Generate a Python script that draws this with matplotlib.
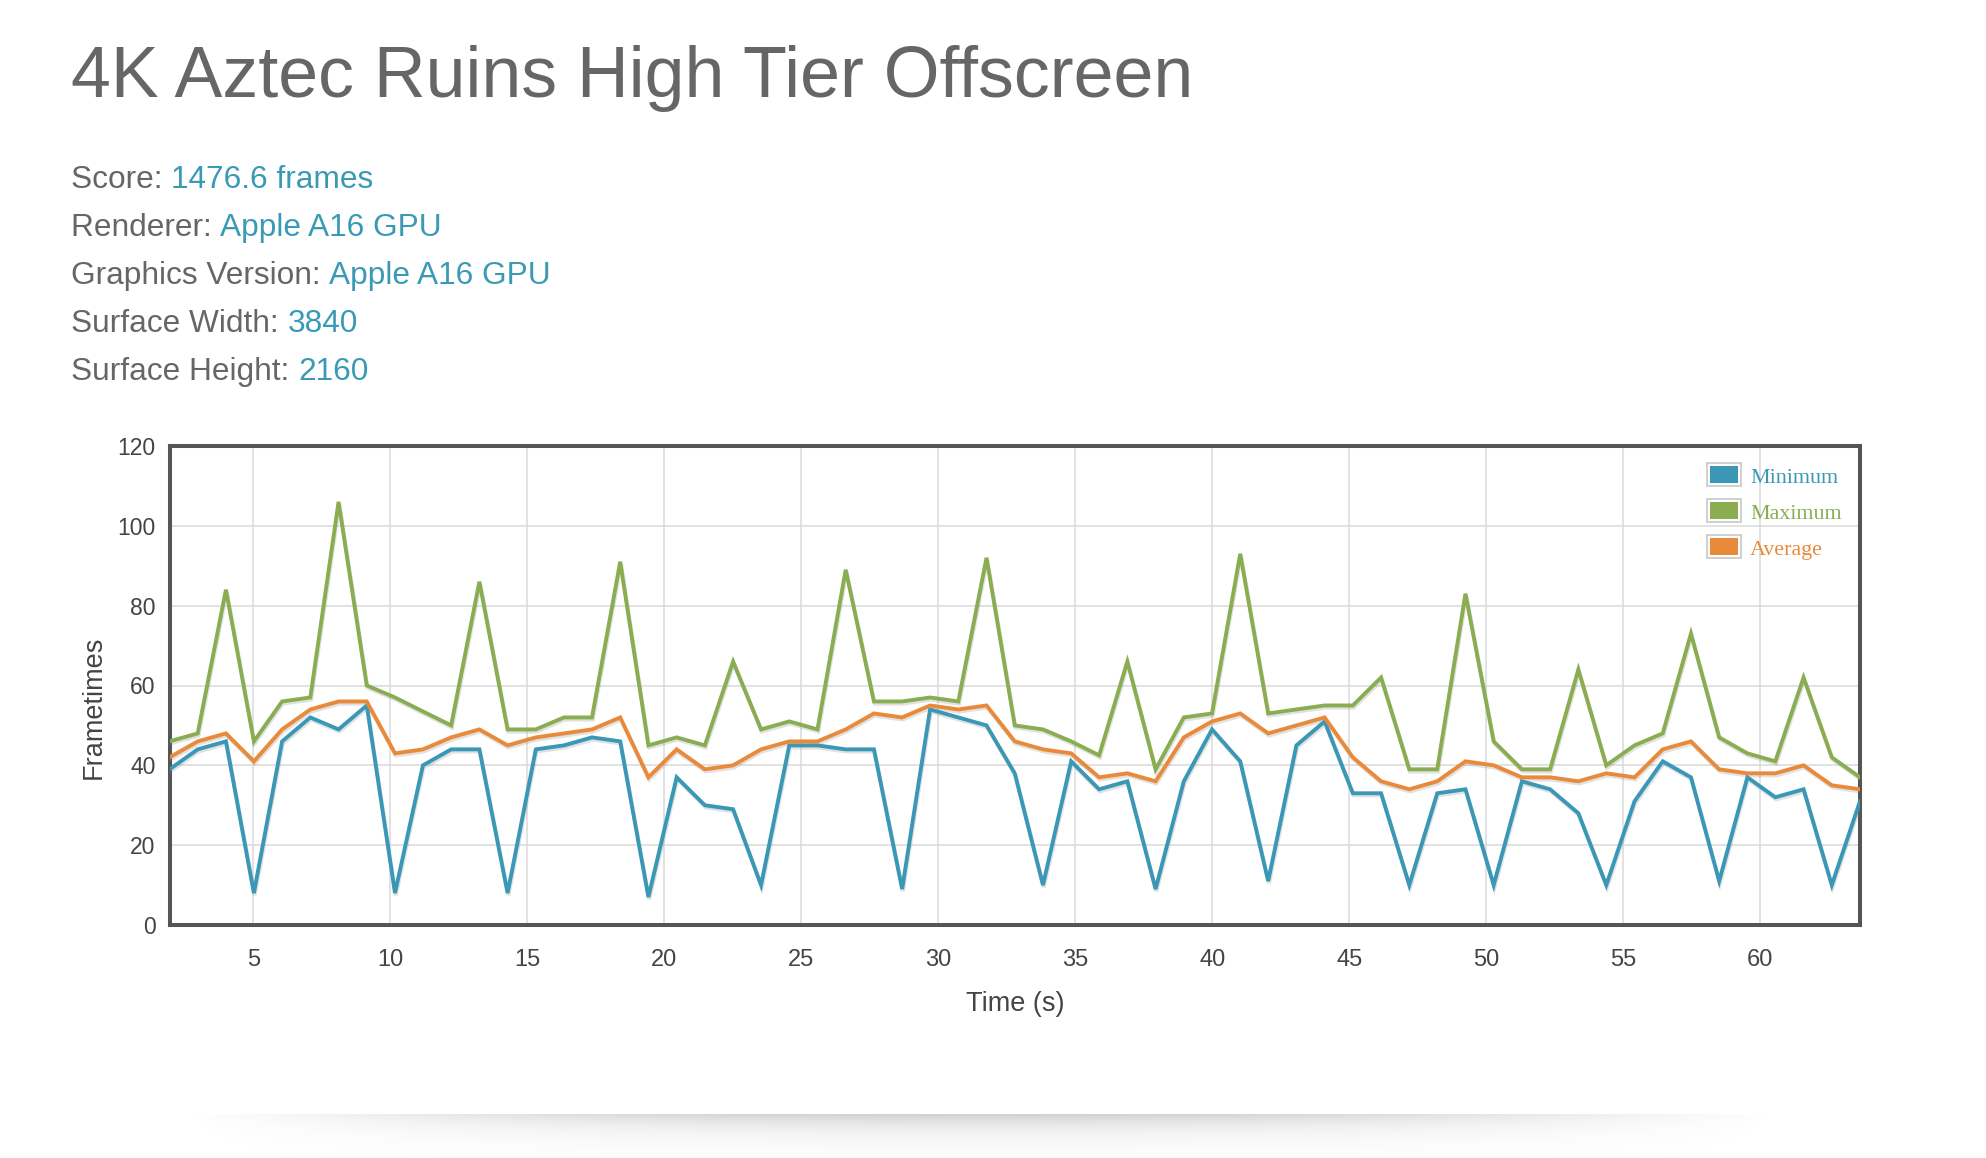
import numpy as np
import matplotlib
matplotlib.use("Agg")
import matplotlib.pyplot as plt
import matplotlib.patheffects as pe
from matplotlib.patches import Rectangle

# Frame time samples (s) and values
times = [1.94, 2.97, 4.00, 5.02, 6.05, 7.08, 8.11, 9.14, 10.17, 11.19,
         12.22, 13.25, 14.28, 15.31, 16.34, 17.36, 18.39, 19.42, 20.45, 21.48,
         22.51, 23.53, 24.56, 25.59, 26.62, 27.65, 28.68, 29.70, 30.73, 31.76,
         32.79, 33.82, 34.85, 35.87, 36.90, 37.93, 38.96, 39.99, 41.02, 42.04,
         43.07, 44.10, 45.13, 46.16, 47.19, 48.21, 49.24, 50.27, 51.30, 52.33,
         53.36, 54.38, 55.41, 56.44, 57.47, 58.50, 59.53, 60.55, 61.58, 62.61,
         63.64]

minimum = [39, 44, 46, 8, 46, 52, 49, 55, 8, 40,
           44, 44, 8, 44, 45, 47, 46, 7, 37, 30,
           29, 10, 45, 45, 44, 44, 9, 54, 52, 50,
           38, 10, 41, 34, 36, 9, 36, 49, 41, 11,
           45, 51, 33, 33, 10, 33, 34, 10, 36, 34,
           28, 10, 31, 41, 37, 11, 37, 32, 34, 10,
           31]

maximum = [46, 48, 84, 46, 56, 57, 106, 60, 57, 53.5,
           50, 86, 49, 49, 52, 52, 91, 45, 47, 45,
           66, 49, 51, 49, 89, 56, 56, 57, 56, 92,
           50, 49, 46, 42.5, 66, 39, 52, 53, 93, 53,
           54, 55, 55, 62, 39, 39, 83, 46, 39, 39,
           64, 40, 45, 48, 73, 47, 43, 41, 62, 42,
           37]

average = [42, 46, 48, 41, 49, 54, 56, 56, 43, 44,
           47, 49, 45, 47, 48, 49, 52, 37, 44, 39,
           40, 44, 46, 46, 49, 53, 52, 55, 54, 55,
           46, 44, 43, 37, 38, 36, 47, 51, 53, 48,
           50, 52, 42, 36, 34, 36, 41, 40, 37, 37,
           36, 38, 37, 44, 46, 39, 38, 38, 40, 35,
           34]

series_names = ["Minimum", "Maximum", "Average"]
series_colors = ["#3a98b6", "#8aad52", "#e98a3b"]

title = "4K Aztec Ruins High Tier Offscreen"
info_labels = ["Score: ", "Renderer: ", "Graphics Version: ", "Surface Width: ", "Surface Height: "]
info_values = ["1476.6 frames", "Apple A16 GPU", "Apple A16 GPU", "3840", "2160"]

W, H = 1986, 1158
GRAY = "#666666"
TEAL = "#3a9ab5"

plt.rcParams['font.family'] = ['Liberation Sans', 'DejaVu Sans']

fig = plt.figure(figsize=(W / 100, H / 100), dpi=100)
fig.patch.set_facecolor("white")

def fx(px):
    return px / W

def fy(py):
    return 1 - py / H

# header text
fig.text(fx(71), fy(97), title, fontsize=51.7, color=GRAY, va="baseline", ha="left")

renderer = fig.canvas.get_renderer()
for k, (lab, val) in enumerate(zip(info_labels, info_values)):
    base = 188 + 48 * k
    t = fig.text(fx(71), fy(base), lab, fontsize=22.8, color=GRAY, va="baseline", ha="left")
    bb = t.get_window_extent(renderer)
    fig.text(bb.x1 / W, fy(base), val, fontsize=22.8, color=TEAL, va="baseline", ha="left")

# main chart
ax = fig.add_axes([fx(169.5), fy(925), fx(1860) - fx(169.5), fy(446) - fy(925)])
shadow = [pe.SimpleLineShadow(offset=(0.6, -1.6), shadow_color="#888888", alpha=0.25), pe.Normal()]
for vals, name, col in zip([minimum, maximum, average], series_names, series_colors):
    ax.plot(times, vals, color=col, lw=2.8, label=name, solid_joinstyle="miter",
            path_effects=shadow, zorder=3)

ax.set_xlim(times[0], times[-1])
ax.set_ylim(0, 120)
ax.set_xticks(range(5, 61, 5))
ax.set_yticks(range(0, 121, 20))
ax.grid(True, color="#dadada", lw=1.1, zorder=0)
ax.set_axisbelow(True)
for sp in ax.spines.values():
    sp.set_linewidth(2.9)
    sp.set_color("#555555")
ax.tick_params(length=0, labelcolor="#444444")
ax.tick_params(axis="y", pad=10, labelsize=16.5)
ax.tick_params(axis="x", pad=17, labelsize=17)
ax.set_xlabel("Time (s)", fontsize=19.5, color="#444444", labelpad=15)
ax.set_ylabel("Frametimes", fontsize=19.5, color="#444444")
ax.yaxis.set_label_coords(-0.037, 0.455)

# legend drawn as boxed swatches like the original
for k, (name, col) in enumerate(zip(series_names, series_colors)):
    top = 463.3 + 36 * k
    fig.patches.append(Rectangle((fx(1707), fy(top + 23)), fx(34), 23 / H,
                                 transform=fig.transFigure, facecolor="white",
                                 edgecolor="#c8c8c8", lw=1.2, zorder=5))
    fig.patches.append(Rectangle((fx(1710), fy(top + 20)), fx(28), 17 / H,
                                 transform=fig.transFigure, facecolor=col,
                                 edgecolor="none", zorder=6))
    fig.text(fx(1750), fy(top + 20), name, fontsize=15.8, color=col,
             family=["Liberation Serif", "DejaVu Serif"], va="baseline", ha="left", zorder=7)

# soft shadow under the card
sax = fig.add_axes([fx(180), fy(1158), fx(1600), fy(1114) - fy(1158)])
gx = np.linspace(-1, 1, 400)
gy = np.linspace(0, 1, 60)
GX, GY = np.meshgrid(gx, gy)
alpha = 0.32 * np.clip(1 - GX ** 2, 0, 1) ** 1.2 * np.exp(-GY * 3.0)
rgba = np.zeros(GX.shape + (4,))
rgba[..., :3] = 0.42
rgba[..., 3] = alpha
sax.imshow(rgba, aspect="auto", extent=(0, 1, 1, 0))
sax.axis("off")

fig.savefig("out.png", dpi=100, facecolor="white")
